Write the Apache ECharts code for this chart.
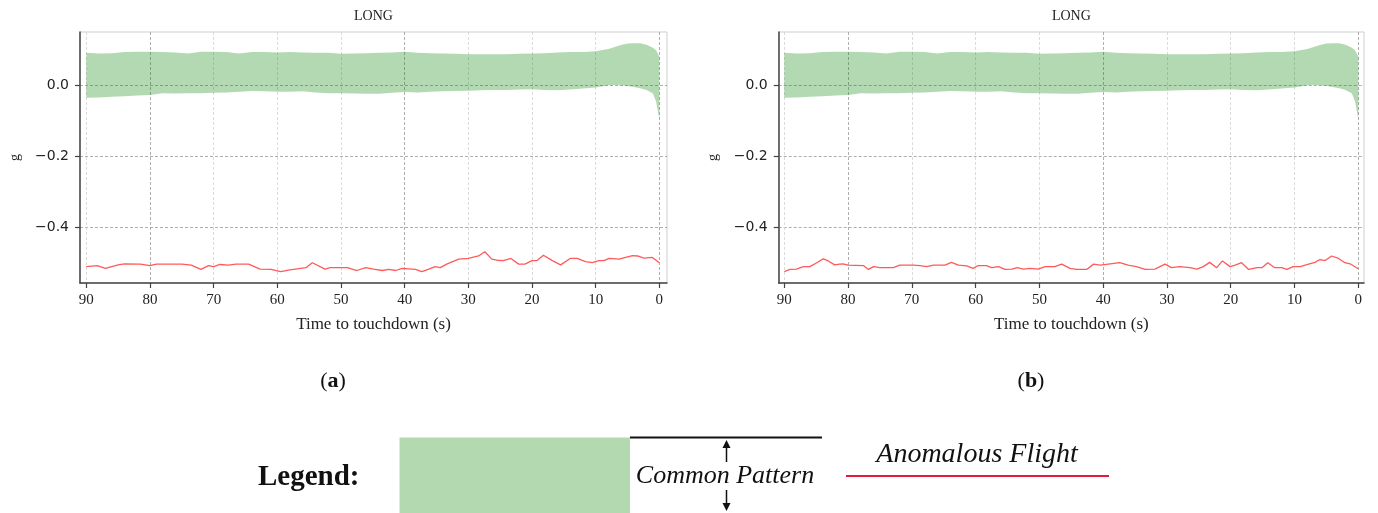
<!DOCTYPE html>
<html>
<head>
<meta charset="utf-8">
<script src="https://cdn.jsdelivr.net/npm/echarts@6/dist/echarts.min.js"></script>
<style>
html,body{margin:0;padding:0;background:#fff;}
#c{width:1378px;height:513px;}
</style>
</head>
<body>
<div id="c"></div>
<script>
// ---------- DATA ----------
const panelTitles = ['LONG', 'LONG'];
const panelLetters = ['a', 'b'];
const xAxisName = 'Time to touchdown (s)';
const yAxisName = 'g';

// Common pattern band (same in both panels)
const bandTime  = [90,88,86,84,82,80,78,76,74,72,70,68,66,64,62,60,58,56,54,52,50,48,46,44,42,40,38,36,34,32,30,28,26,24,22,20,18,16,14,12,10,8,7,6,5,4,3,2,1,0.5,0];
const bandUpper = [0.093,0.091,0.092,0.095,0.096,0.096,0.095,0.094,0.091,0.096,0.096,0.095,0.091,0.095,0.095,0.094,0.095,0.094,0.093,0.093,0.090,0.091,0.092,0.093,0.094,0.096,0.093,0.092,0.091,0.090,0.089,0.089,0.089,0.089,0.090,0.091,0.092,0.094,0.095,0.095,0.097,0.104,0.109,0.115,0.119,0.120,0.120,0.116,0.107,0.100,0.082];
const bandLower = [-0.034,-0.033,-0.031,-0.030,-0.028,-0.026,-0.021,-0.022,-0.021,-0.021,-0.020,-0.019,-0.017,-0.015,-0.016,-0.017,-0.017,-0.016,-0.019,-0.021,-0.021,-0.022,-0.023,-0.023,-0.020,-0.018,-0.019,-0.017,-0.016,-0.015,-0.014,-0.013,-0.012,-0.012,-0.011,-0.010,-0.012,-0.013,-0.011,-0.008,-0.005,0.001,0.002,0.001,-0.001,-0.004,-0.007,-0.012,-0.022,-0.045,-0.094];

// Anomalous flight (a)
const flightATime  = [90,88.3,87,85,84,81.5,80,79,75,73.5,72,70.8,70,69,67.7,66.5,64.5,62.7,61,59.5,58,55.5,54.5,52.5,51.7,49,47.5,46.1,44.9,43.5,42.5,41.4,40.4,38.3,37.3,36.3,35.2,34.4,33.4,31.5,30,28.4,27.4,26.3,25.5,24.5,23.3,22.1,21.1,20,19.2,18.2,16.8,15.5,15.2,14,12.9,11.6,10.5,9.5,8.7,7.9,6.3,5.3,4.2,3.4,2.4,1.1,0];
const flightAValue = [-0.511,-0.508,-0.516,-0.506,-0.503,-0.504,-0.508,-0.504,-0.504,-0.507,-0.519,-0.508,-0.511,-0.505,-0.507,-0.504,-0.504,-0.518,-0.519,-0.525,-0.520,-0.514,-0.500,-0.518,-0.514,-0.514,-0.522,-0.514,-0.518,-0.522,-0.519,-0.522,-0.516,-0.519,-0.525,-0.519,-0.511,-0.514,-0.504,-0.490,-0.488,-0.481,-0.469,-0.490,-0.493,-0.494,-0.488,-0.504,-0.504,-0.494,-0.494,-0.479,-0.494,-0.506,-0.506,-0.488,-0.488,-0.497,-0.500,-0.494,-0.494,-0.488,-0.490,-0.485,-0.480,-0.481,-0.487,-0.485,-0.500];

// Anomalous flight (b)
const flightBTime  = [90,89.1,88.1,87,86,84.9,83.9,83.1,82.1,81.3,80.8,80,77.6,76.8,76,75,72.9,71.9,69.8,68.7,67.7,66.6,64.8,63.8,62.7,61.4,60.4,59.6,58.3,57.5,56.4,55.4,54.3,53.5,52.5,51.5,50.2,49.1,47.6,46.5,45.2,44.2,42.6,41.5,40.5,38.9,37.4,36.1,34.8,33.4,31.9,30.3,29.3,28,26.4,25.3,24.3,23.3,22.2,21.3,20.1,19.3,18.3,17.2,15.9,15.1,14.2,13.1,12,11.2,10.2,9.1,7.8,6.8,6,5.2,4.2,3.1,2.1,1.3,0];
const flightBValue = [-0.525,-0.519,-0.518,-0.511,-0.511,-0.500,-0.489,-0.495,-0.506,-0.504,-0.503,-0.507,-0.508,-0.519,-0.511,-0.514,-0.514,-0.507,-0.507,-0.508,-0.511,-0.507,-0.507,-0.499,-0.507,-0.509,-0.516,-0.508,-0.508,-0.514,-0.511,-0.519,-0.518,-0.514,-0.518,-0.516,-0.518,-0.511,-0.511,-0.504,-0.516,-0.519,-0.519,-0.504,-0.507,-0.503,-0.500,-0.507,-0.511,-0.519,-0.518,-0.504,-0.514,-0.511,-0.514,-0.518,-0.511,-0.499,-0.514,-0.495,-0.511,-0.507,-0.500,-0.519,-0.514,-0.514,-0.500,-0.514,-0.514,-0.519,-0.511,-0.511,-0.504,-0.499,-0.491,-0.494,-0.481,-0.488,-0.500,-0.503,-0.517];

const flightTimes  = [flightATime, flightBTime];
const flightValues = [flightAValue, flightBValue];

// Axis ranges / ticks
const xTickMin = 0, xTickMax = 90, xTickStep = 10;
const yTickMin = -0.4, yTickMax = 0, yTickStep = 0.2;
const yViewMin = -0.5573, yViewMax = 0.1517;

// Legend texts
const legendTitle = 'Legend:';
const legendCommon = 'Common Pattern';
const legendAnomalous = 'Anomalous Flight';

// ---------- LAYOUT ----------
const panels = [
  { frameL: 80,    frameR: 667,  xL: 86.3,  xR: 659.3 },
  { frameL: 778.7, frameR: 1364, xL: 784.3, xR: 1358.3 }
];
const top0 = 32, bottom0 = 283, zeroY = 85.7, m04Y = 227.3;

const serif = '"Liberation Serif", "Times New Roman", serif';
const sans = '"DejaVu Sans", sans-serif';
const fmtY = v => v.toFixed(1).replace('-', '\u2212');

const grids = [], xAxes = [], yAxes = [], series = [], graphics = [];
const xSplitColors = ['#9a9a9a','#d2d2d2','#d2d2d2','#d2d2d2','#9a9a9a','#d2d2d2','#d2d2d2','#d2d2d2','#9a9a9a','#d2d2d2'];

const bandData = bandTime.map((t, k) => [t, bandLower[k], bandUpper[k]]);

function renderBand(params, api) {
  if (params.dataIndex !== 0) return null;
  const pts = [];
  for (let k = 0; k < bandData.length; k++) pts.push(api.coord([bandData[k][0], bandData[k][2]]));
  for (let k = bandData.length - 1; k >= 0; k--) pts.push(api.coord([bandData[k][0], bandData[k][1]]));
  return { type: 'polygon', shape: { points: pts }, style: { fill: 'rgba(0,128,0,0.3)' }, silent: true };
}

panels.forEach((p, i) => {
  const g0 = grids.length;
  // frame grid
  grids.push({ left: p.frameL, top: top0, width: p.frameR - p.frameL, height: bottom0 - top0,
    show: true, borderColor: '#cfcfcf', borderWidth: 1, backgroundColor: 'transparent', containLabel: false });
  xAxes.push({ gridIndex: g0, type: 'value', min: 0, max: 1,
    axisLine: { show: true, onZero: false, lineStyle: { color: '#444', width: 1.5 } },
    axisTick: { show: false }, axisLabel: { show: false }, splitLine: { show: false },
    name: xAxisName, nameLocation: 'middle', nameGap: 33,
    nameTextStyle: { fontFamily: serif, fontSize: 17, color: '#222' } });
  yAxes.push({ gridIndex: g0, type: 'value', min: 0, max: 1,
    axisLine: { show: true, onZero: false, lineStyle: { color: '#444', width: 1.5 } },
    axisTick: { show: false }, axisLabel: { show: false }, splitLine: { show: false },
    name: yAxisName, nameLocation: 'middle', nameGap: 58, nameRotate: 90,
    nameTextStyle: { fontFamily: serif, fontSize: 14, color: '#222' } });

  // x-tick grid (data grid)
  const g1 = grids.length;
  grids.push({ left: p.xL, top: top0, width: p.xR - p.xL, height: bottom0 - top0, containLabel: false });
  xAxes.push({ gridIndex: g1, type: 'value', min: xTickMin, max: xTickMax, interval: xTickStep, inverse: true,
    axisLine: { show: false, onZero: false },
    axisTick: { show: true, length: 5, lineStyle: { color: '#444', width: 1.2 } },
    axisLabel: { show: true, margin: 10, fontFamily: serif, fontSize: 15, color: '#222' },
    splitLine: { show: true, lineStyle: { color: xSplitColors, width: 0.8, type: [3, 2] } } });
  yAxes.push({ gridIndex: g1, type: 'value', min: yViewMin, max: yViewMax, show: false,
    splitLine: { show: false } });

  // y-tick grid
  const g2 = grids.length;
  grids.push({ left: p.frameL, top: zeroY, width: p.frameR - p.frameL, height: m04Y - zeroY, containLabel: false });
  xAxes.push({ gridIndex: g2, type: 'value', min: 0, max: 1, show: false, splitLine: { show: false } });
  yAxes.push({ gridIndex: g2, type: 'value', min: yTickMin, max: yTickMax, interval: yTickStep,
    axisLine: { show: false, onZero: false },
    axisTick: { show: true, length: 5, lineStyle: { color: '#444', width: 1.2 } },
    axisLabel: { show: true, margin: 11, fontFamily: sans, fontSize: 14, color: '#222', formatter: fmtY },
    splitLine: { show: true, lineStyle: { color: '#9a9a9a', width: 0.8, type: [3, 2] } } });

  // common pattern band
  series.push({ type: 'custom', xAxisIndex: g1, yAxisIndex: g1, data: bandData,
    encode: { x: 0, y: [1, 2] }, renderItem: renderBand, silent: true, z: 2, clip: false });
  // anomalous flight
  series.push({ type: 'line', xAxisIndex: g1, yAxisIndex: g1,
    data: flightTimes[i].map((t, k) => [t, flightValues[i][k]]), symbol: 'none', silent: true,
    lineStyle: { color: '#ff5a5a', width: 1.3 }, z: 3 });

  // title
  graphics.push({ type: 'text', x: (p.frameL + p.frameR) / 2, y: 16,
    style: { text: panelTitles[i], font: '14px ' + serif, fill: '#222', align: 'center', verticalAlign: 'middle' } });
  // panel letter
  graphics.push({ type: 'text', x: i === 0 ? 333 : 1031, y: 381,
    style: { text: '(' + '{b|' + panelLetters[i] + '}' + ')', font: '22px ' + serif, fill: '#111',
      align: 'center', verticalAlign: 'middle',
      rich: { b: { fontFamily: serif, fontSize: 22, fontWeight: 'bold', fill: '#111' } } } });
});

// legend graphics
graphics.push({ type: 'text', x: 258, y: 478,
  style: { text: legendTitle, font: 'bold 29px ' + serif, fill: '#111', align: 'left', verticalAlign: 'middle' } });
graphics.push({ type: 'rect', shape: { x: 399.5, y: 437.5, width: 230.5, height: 80 }, style: { fill: '#b2d9b0' } });
graphics.push({ type: 'line', shape: { x1: 630, y1: 437.5, x2: 822, y2: 437.5 }, style: { stroke: '#111', lineWidth: 2 } });
graphics.push({ type: 'line', shape: { x1: 726.5, y1: 444, x2: 726.5, y2: 462 }, style: { stroke: '#111', lineWidth: 1.5 } });
graphics.push({ type: 'polygon', shape: { points: [[722.5, 448], [726.5, 440], [730.5, 448]] }, style: { fill: '#111' } });
graphics.push({ type: 'line', shape: { x1: 726.5, y1: 490, x2: 726.5, y2: 507 }, style: { stroke: '#111', lineWidth: 1.5 } });
graphics.push({ type: 'polygon', shape: { points: [[722.5, 503], [726.5, 511], [730.5, 503]] }, style: { fill: '#111' } });
graphics.push({ type: 'text', x: 725, y: 476,
  style: { text: legendCommon, font: 'italic 26px ' + serif, fill: '#111', align: 'center', verticalAlign: 'middle' } });
graphics.push({ type: 'text', x: 977, y: 455,
  style: { text: legendAnomalous, font: 'italic 28px ' + serif, fill: '#111', align: 'center', verticalAlign: 'middle' } });
graphics.push({ type: 'line', shape: { x1: 846, y1: 476, x2: 1109, y2: 476 }, style: { stroke: '#e8173c', lineWidth: 2 } });

const chart = echarts.init(document.getElementById('c'), null, { renderer: 'canvas' });
chart.setOption({
  animation: false,
  backgroundColor: '#fff',
  grid: grids,
  xAxis: xAxes,
  yAxis: yAxes,
  series: series,
  graphic: graphics
});
</script>
</body>
</html>
